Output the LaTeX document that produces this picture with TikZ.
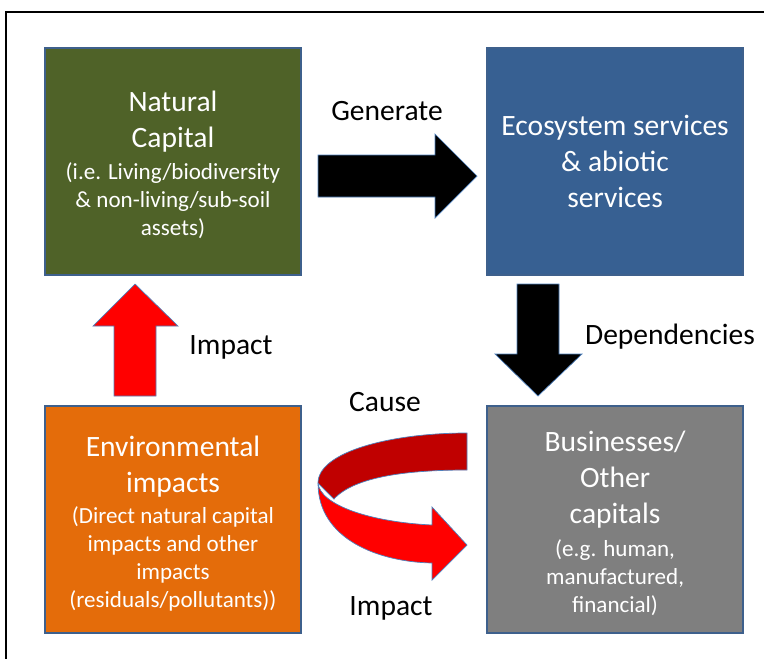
\documentclass[tikz,border=0pt]{standalone}
\usepackage{fontspec}
\setmainfont{Carlito}
\usetikzlibrary{positioning}
\definecolor{ncgreen}{RGB}{79,98,40}
\definecolor{esblue}{RGB}{55,96,146}
\definecolor{eiorange}{RGB}{228,108,10}
\definecolor{bogrey}{RGB}{127,127,127}
\definecolor{boxedge}{RGB}{62,96,140}
\definecolor{arrowedge}{RGB}{79,129,189}
\definecolor{backred}{RGB}{192,0,0}
\newcommand{\mainsize}{\fontsize{21}{25.6}\selectfont}
\newcommand{\subsize}{\fontsize{16.4}{19.9}\selectfont}
% smaller lines under the box titles
\newcommand{\subtext}[1]{{\subsize\begin{tabular}[t]{@{}c@{}}#1\\[-8.5pt]\end{tabular}}}
\tikzset{
  capbox/.style={draw=boxedge, line width=1.4pt, minimum width=6.4cm, minimum height=5.675cm,
    text=white, align=center, font=\mainsize, inner sep=0pt},
  bigarrow/.style={fill=black, draw=arrowedge, line width=0.5pt},
  linklabel/.style={font=\mainsize, text=black, inner sep=0pt}
}

\begin{document}
\begin{tikzpicture}[x=0.025cm, y=-0.025cm]
\useasboundingbox (0,0) rectangle (764,659);
% open frame, top and left only
\draw[line width=1.1pt] (764,12) -- (6,12) -- (6,659);
% the four boxes
\node[capbox, fill=ncgreen] (nc) at (173,161.5)
  {Natural\\Capital\\[-2.8pt]\subtext{(i.e. Living/biodiversity\\\& non-living/sub-soil\\assets)}};
\node[capbox, fill=esblue, right=4.6cm of nc] (es)
  {Ecosystem services\\\& abiotic\\services};
\node[capbox, fill=eiorange, below=3.225cm of nc] (ei)
  {Environmental\\impacts\\[-3.5pt]\subtext{(Direct natural capital\\impacts and other\\impacts\\(residuals/pollutants))}};
\node[capbox, fill=bogrey, below=3.225cm of es] (bo)
  {Businesses/\\Other\\capitals\\[-2.2pt]\subtext{(e.g. human,\\manufactured,\\financial)}};
% block arrows
\draw[bigarrow] (318,155) -- (435,155) -- (435,134) -- (477,176) -- (435,218) -- (435,197) -- (318,197) -- cycle;
\draw[bigarrow] (517,284) -- (559,284) -- (559,354) -- (582,354) -- (538,396) -- (495,354) -- (517,354) -- cycle;
\draw[bigarrow, fill=red] (114,396) -- (114,326) -- (93,326) -- (135,284) -- (178,326) -- (156,326) -- (156,396) -- cycle;
% curved ribbon arrow, back part first
\draw[fill=backred, draw=arrowedge, line width=0.5pt] (467,433) .. controls (390,433) and (318,452) .. (318,483)
  -- (334,499) .. controls (355,476) and (410,470) .. (467,470) -- cycle;
\draw[fill=red, draw=arrowedge, line width=0.5pt] (318,483) .. controls (318,540) and (380,562) .. (432,563)
  -- (432,580) -- (467,545) -- (432,507) -- (432,525) .. controls (370,522) and (320,505) .. (318,483) -- cycle;
% labels
\node[linklabel] (gen) at (387,111) {Generate};
\node[linklabel] (dep) at (670,337) {Dependencies};
\node[linklabel] (imp1) at (231,347) {Impact};
\node[linklabel] (cause) at (385,402) {Cause};
\node[linklabel] (imp2) at (391,608) {Impact};
\end{tikzpicture}
\end{document}
